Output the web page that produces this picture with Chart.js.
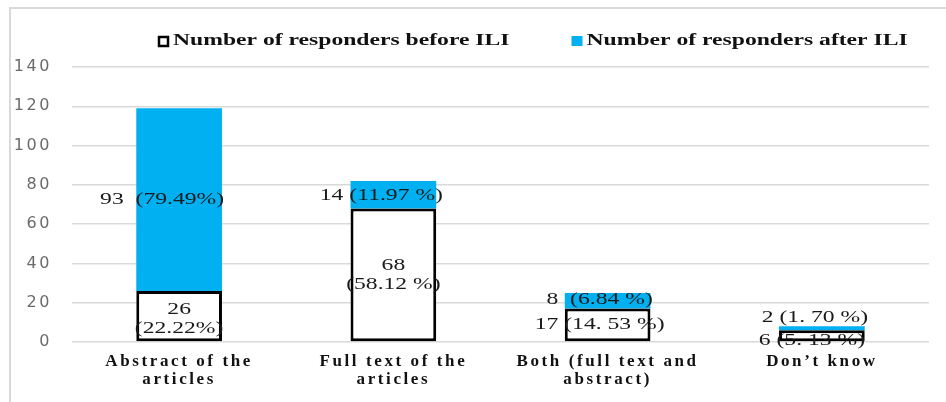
<!DOCTYPE html>
<html>
<head>
<meta charset="utf-8">
<script src="https://cdn.jsdelivr.net/npm/chart.js@4/dist/chart.umd.min.js"></script>
<style>
  body { margin: 0; background: #fff; }
  #wrap { position: absolute; left: 9px; top: 7px; border-left: 2px solid #d9d9d9; border-top: 2px solid #d9d9d9; }
</style>
</head>
<body>
<div id="wrap"><canvas id="chart" width="935" height="393"></canvas></div>
<script>
// chart data
const categories = [
  ['Abstract of the', 'articles'],
  ['Full text of the', 'articles'],
  ['Both (full text and', 'abstract)'],
  ['Don\u2019t know']
];
const beforeValues = [26, 68, 17, 6];
const afterValues = [93, 14, 8, 2];
const beforeLabels = ['26\n(22.22%)', '68\n(58.12 %)', '17 (14. 53 %)', '6 (5. 13 %)'];
const afterLabels = ['93  (79.49%)', '14 (11.97 %)', '8  (6.84 %)', '2 (1. 70 %)'];
const yTicks = [0, 20, 40, 60, 80, 100, 120, 140];

const serif = '"Liberation Serif", "Times New Roman", serif';
const stretch = 1.39; // the original text is drawn wide

// small nudges for the value labels, [dx, dy] per bar
const labelNudge = [
  [[0, 3], [0, 0], [-8, 0], [-10, 5]],
  [[-17, 0], [-12, 1], [-8, -1], [-7, -11]]
];
const labelSets = [beforeLabels, afterLabels];

function wideText(ctx, text, x, y, align) {
  ctx.save();
  ctx.translate(x, y);
  ctx.scale(stretch, 1);
  ctx.textAlign = align;
  ctx.fillText(text, 0, 0);
  ctx.restore();
}

// axis labels are spaced out too
const axisSpacing = {
  id: 'axisSpacing',
  beforeDraw(chart) { chart.ctx.letterSpacing = '2.6px'; },
  beforeDatasetsDraw(chart) { chart.ctx.letterSpacing = '0px'; }
};

const valueLabels = {
  id: 'valueLabels',
  afterDatasetsDraw(chart) {
    const ctx = chart.ctx;
    ctx.save();
    ctx.font = '17px ' + serif;
    ctx.fillStyle = '#1a1a1a';
    ctx.textBaseline = 'middle';
    chart.data.datasets.forEach((ds, i) => {
      chart.getDatasetMeta(i).data.forEach((bar, j) => {
        const lines = labelSets[i][j].split('\n');
        const n = labelNudge[i][j];
        const cy = (bar.y + bar.base) / 2 + n[1];
        const lh = 19;
        lines.forEach((t, k) => {
          wideText(ctx, t, bar.x + n[0], cy + (k - (lines.length - 1) / 2) * lh, 'center');
        });
      });
    });
    ctx.restore();
  }
};

const topLegend = {
  id: 'topLegend',
  afterDraw(chart) {
    const ctx = chart.ctx;
    ctx.save();
    ctx.font = 'bold 17px ' + serif;
    ctx.textBaseline = 'middle';
    let x = 147;
    const y = 32;
    chart.data.datasets.forEach((ds, i) => {
      if (i === 0) {
        ctx.fillStyle = '#fff';
        ctx.fillRect(x, y - 5, 11, 11);
        ctx.lineWidth = 2.5;
        ctx.strokeStyle = '#000';
        ctx.strokeRect(x + 1, y - 4, 9, 9);
      } else {
        ctx.fillStyle = ds.backgroundColor;
        ctx.fillRect(x, y - 5, 11, 10);
      }
      ctx.fillStyle = '#111';
      wideText(ctx, ds.label, x + 15, y, 'left');
      x += 15 + ctx.measureText(ds.label).width * stretch + 62;
    });
    ctx.restore();
  }
};

new Chart(document.getElementById('chart'), {
  type: 'bar',
  data: {
    labels: categories,
    datasets: [
      {
        label: 'Number of responders before ILI',
        data: beforeValues,
        backgroundColor: '#ffffff',
        borderColor: '#000000',
        borderWidth: 3,
        borderSkipped: false
      },
      {
        label: 'Number of responders after ILI',
        data: afterValues,
        backgroundColor: '#00b0f0',
        borderWidth: 0
      }
    ]
  },
  options: {
    responsive: false,
    animation: false,
    layout: { padding: { top: 58, right: 17, bottom: 0, left: 0 } },
    plugins: {
      legend: { display: false },
      tooltip: { enabled: false }
    },
    datasets: {
      bar: { categoryPercentage: 1, barPercentage: 0.4 }
    },
    scales: {
      x: {
        stacked: true,
        grid: { display: false },
        border: { display: false },
        ticks: {
          color: '#111',
          padding: 2,
          maxRotation: 0,
          font: { family: serif, size: 17, weight: 'bold', lineHeight: 1.1 }
        },
        afterFit(scale) { scale.height = 60; }
      },
      y: {
        stacked: true,
        min: 0,
        max: 140,
        afterBuildTicks(scale) { scale.ticks = yTicks.map(v => ({ value: v })); },
        grid: { color: '#d9d9d9', lineWidth: 1.5, drawTicks: false },
        border: { display: false },
        ticks: {
          color: '#6b6b6b',
          padding: 20,
          font: { family: '"DejaVu Sans", sans-serif', size: 16 }
        },
        afterFit(scale) { scale.width = 61; }
      }
    }
  },
  plugins: [axisSpacing, valueLabels, topLegend]
});
</script>
</body>
</html>
